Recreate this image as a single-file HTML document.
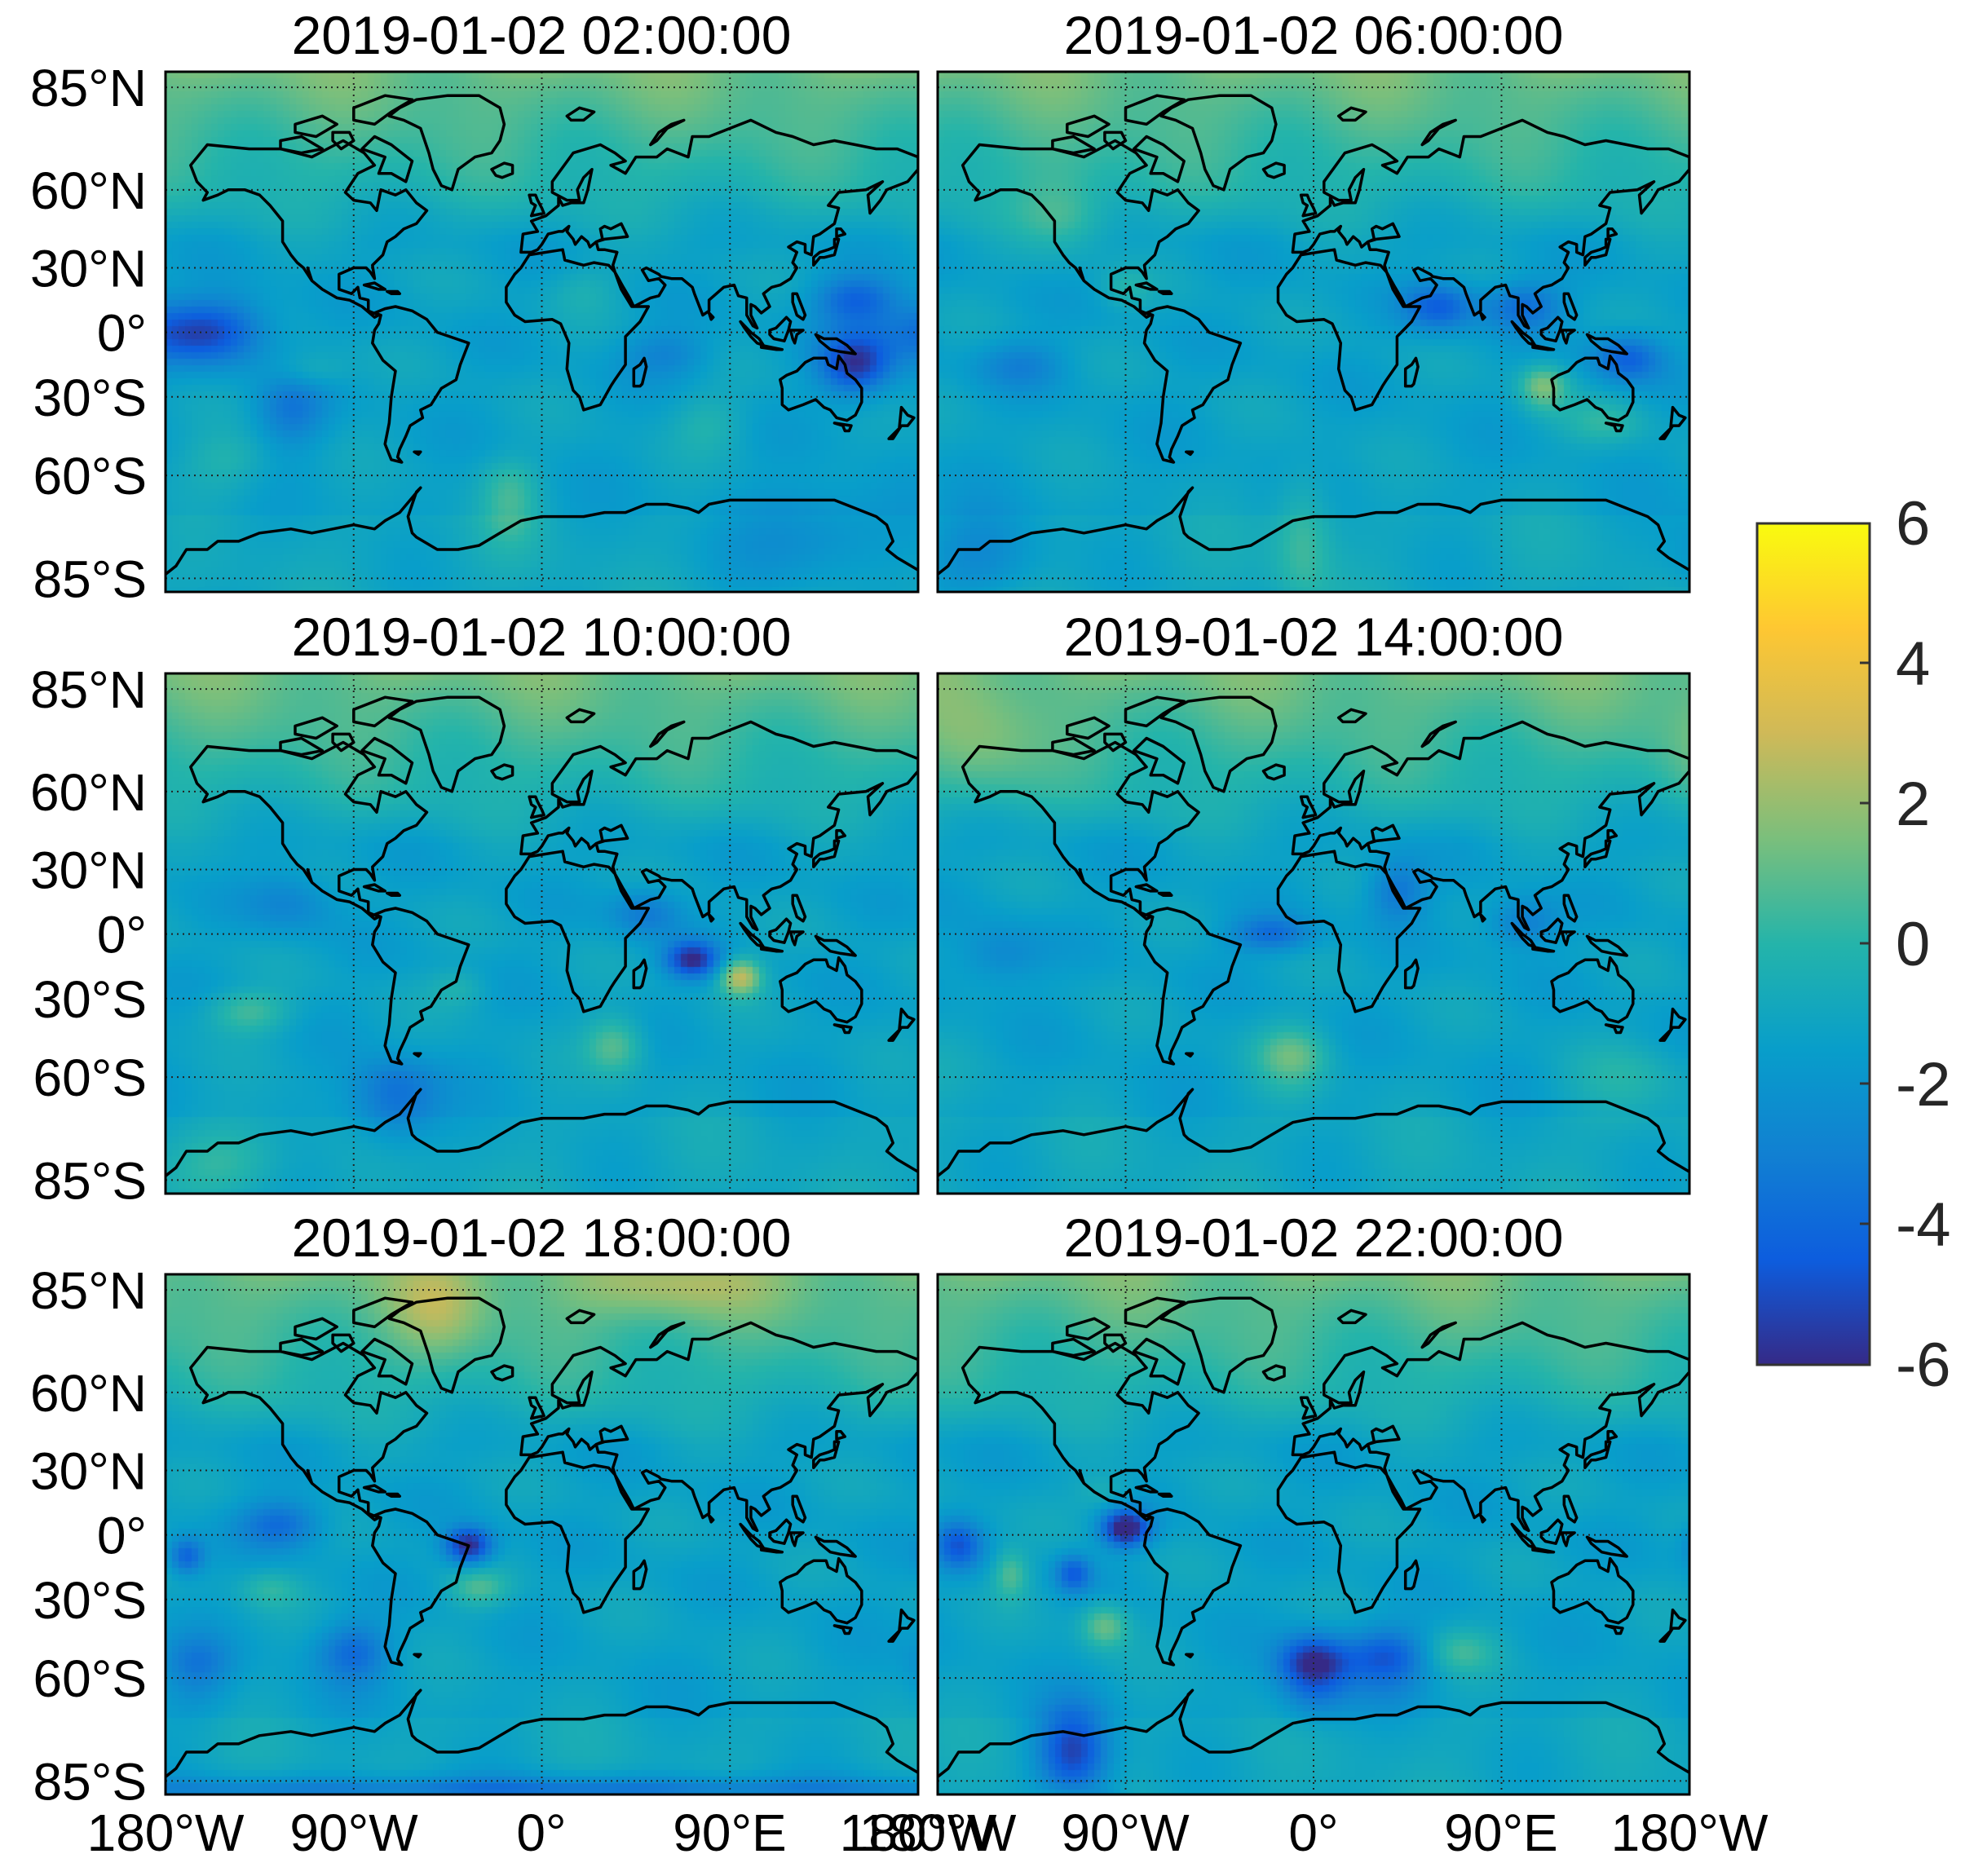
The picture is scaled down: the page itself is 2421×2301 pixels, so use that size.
<!DOCTYPE html>
<html><head><meta charset="utf-8">
<style>
html,body{margin:0;padding:0;background:#fff;}
#wrap{position:relative;width:2421px;height:2301px;overflow:hidden;background:#fff;}
canvas{position:absolute;}
svg{position:absolute;left:0;top:0;}
text{font-family:"Liberation Sans",Arial,sans-serif;}
</style></head>
<body><div id="wrap">
<canvas id="c0" width="923" height="638" style="left:203px;top:88px;width:923px;height:638px"></canvas>
<canvas id="c1" width="922" height="638" style="left:1150px;top:88px;width:922px;height:638px"></canvas>
<canvas id="c2" width="923" height="638" style="left:203px;top:826px;width:923px;height:638px"></canvas>
<canvas id="c3" width="922" height="638" style="left:1150px;top:826px;width:922px;height:638px"></canvas>
<canvas id="c4" width="923" height="638" style="left:203px;top:1563px;width:923px;height:638px"></canvas>
<canvas id="c5" width="922" height="638" style="left:1150px;top:1563px;width:922px;height:638px"></canvas>
<svg id="ov" width="2421" height="2301" xmlns="http://www.w3.org/2000/svg">
<defs>
<linearGradient id="cb" x1="0" y1="1" x2="0" y2="0">
<stop offset="0" stop-color="#352a87"/><stop offset="0.125" stop-color="#0d5dde"/>
<stop offset="0.25" stop-color="#1180d2"/><stop offset="0.375" stop-color="#089eca"/>
<stop offset="0.5" stop-color="#24b4aa"/><stop offset="0.625" stop-color="#7abf7c"/>
<stop offset="0.75" stop-color="#cfb958"/><stop offset="0.875" stop-color="#fec732"/>
<stop offset="1" stop-color="#f9fb0e"/></linearGradient>
</defs>
<g id="texts" font-size="64" fill="#000">
<text x="664" y="66" text-anchor="middle" font-size="66">2019-01-02 02:00:00</text>
<text x="1611" y="66" text-anchor="middle" font-size="66">2019-01-02 06:00:00</text>
<text x="664" y="804" text-anchor="middle" font-size="66">2019-01-02 10:00:00</text>
<text x="1611" y="804" text-anchor="middle" font-size="66">2019-01-02 14:00:00</text>
<text x="664" y="1541" text-anchor="middle" font-size="66">2019-01-02 18:00:00</text>
<text x="1611" y="1541" text-anchor="middle" font-size="66">2019-01-02 22:00:00</text>
<g text-anchor="middle" font-size="64">
<text x="203" y="2270">180°W</text><text x="434" y="2270">90°W</text><text x="664" y="2270">0°</text><text x="895" y="2270">90°E</text><text x="1126" y="2270">180°W</text>
<text x="1150" y="2270">180°W</text><text x="1380" y="2270">90°W</text><text x="1611" y="2270">0°</text><text x="1841" y="2270">90°E</text><text x="2072" y="2270">180°W</text>
</g>
<g font-size="76" fill="#262626">
<text x="2325" y="668">6</text><text x="2325" y="840">4</text><text x="2325" y="1012">2</text><text x="2325" y="1184">0</text><text x="2325" y="1356">-2</text><text x="2325" y="1528">-4</text><text x="2325" y="1700">-6</text>
</g>
</g>
<rect x="2155" y="642" width="138" height="1032" fill="url(#cb)" stroke="#333" stroke-width="3"/>
<g stroke="#333" stroke-width="3">
<line x1="2281" y1="813" x2="2293" y2="813"/><line x1="2281" y1="985" x2="2293" y2="985"/><line x1="2281" y1="1157" x2="2293" y2="1157"/><line x1="2281" y1="1329" x2="2293" y2="1329"/><line x1="2281" y1="1501" x2="2293" y2="1501"/>
</g>
<g id="maps"></g>
</svg>
</div>
<script>
var LATS=[-90,-85,-60,-30,0,30,60,85,90],FR=[1.0,0.974,0.776,0.625,0.501,0.377,0.227,0.030,0];
function fy(lat){for(var i=0;i<LATS.length-1;i++){if(lat<=LATS[i+1]){var t=(lat-LATS[i])/(LATS[i+1]-LATS[i]);return FR[i]+t*(FR[i+1]-FR[i]);}}return 0;}
function flat(f){for(var i=0;i<FR.length-1;i++){if(f>=FR[i+1]){var t=(f-FR[i])/(FR[i+1]-FR[i]);return LATS[i]+t*(LATS[i+1]-LATS[i]);}}return 90;}
var P=[[203,88,923,638],[1150,88,922,638],[203,826,923,638],[1150,826,922,638],[203,1563,923,638],[1150,1563,922,638]];
var C=[
[[-168,66],[-160,71],[-140,70],[-125,70],[-110,68],[-95,72],[-85,69],[-80,66],[-88,64],[-94,59],[-90,56],[-82,55],[-79,52],[-77,60],[-70,58],[-65,60],[-60,55],[-55,52],[-60,47],[-66,45],[-70,42],[-74,40],[-76,35],[-81,31],[-80,25],[-82,28],[-84,30],[-90,30],[-97,27],[-97,20],[-91,18],[-88,21],[-87,16],[-83,15],[-83,10],[-78,8],[-80,7],[-86,12],[-92,15],[-98,16],[-105,20],[-110,24],[-112,30],[-110,24],[-114,30],[-117,32],[-120,35],[-124,40],[-124,48],[-130,54],[-135,58],[-142,60],[-150,60],[-155,58],[-162,56],[-160,59],[-165,62],[-168,66]],
[[-80,9],[-75,11],[-70,12],[-62,10],[-55,6],[-50,0],[-44,-2],[-35,-5],[-39,-15],[-41,-22],[-48,-26],[-53,-33],[-58,-35],[-57,-38],[-63,-41],[-65,-45],[-68,-50],[-69,-53],[-67,-55],[-72,-54],[-75,-48],[-73,-40],[-72,-30],[-70,-18],[-76,-13],[-81,-5],[-80,1],[-78,4],[-77,8],[-80,9]],
[[-17,21],[-13,27],[-10,30],[-6,35],[10,37],[11,33],[20,31],[25,32],[32,31],[35,28],[38,20],[43,12],[51,12],[47,5],[40,-2],[40,-15],[35,-22],[33,-25],[28,-33],[20,-35],[18,-30],[15,-27],[12,-17],[13,-5],[9,4],[5,6],[-8,5],[-13,8],[-17,14],[-17,21]],
[[-10,36],[-9,43],[-2,44],[-5,48],[2,50],[5,52],[8,54],[8,57],[10,54],[14,55],[20,55],[22,60],[24,65],[20,63],[17,60],[18,56],[12,56],[5,59],[5,62],[15,69],[28,71],[35,69],[40,67],[33,66],[40,64],[45,68],[55,68],[60,70],[70,68],[72,73],[80,73],[90,75],[100,77],[112,74],[120,73],[130,71],[140,72],[150,71],[160,70],[170,70],[180,68],[180,65],[175,62],[165,60],[162,56],[157,51],[156,58],[163,62],[155,60],[142,59],[137,54],[142,53],[140,47],[133,43],[130,42],[129,35],[126,36],[126,39],[122,40],[118,38],[122,36],[120,32],[122,30],[119,25],[114,22],[110,21],[106,18],[109,12],[105,9],[102,12],[100,13],[100,8],[103,2],[101,3],[98,8],[98,16],[94,17],[92,22],[87,21],[80,15],[80,10],[77,8],[73,18],[72,21],[67,25],[62,25],[57,26],[56,27],[50,30],[48,29],[51,24],[56,25],[59,22],[56,17],[52,16],[44,12],[42,16],[39,21],[35,28],[34,31],[36,36],[30,37],[27,37],[26,40],[29,41],[28,45],[30,46],[33,45],[38,47],[41,42],[30,41],[26,40],[23,38],[22,40],[19,42],[16,39],[15,41],[12,44],[13,46],[10,44],[8,44],[3,43],[0,39],[-2,37],[-5,36],[-10,36]],
[[114,-22],[117,-20],[122,-18],[126,-14],[130,-12],[136,-12],[137,-15],[141,-17],[142,-11],[145,-15],[146,-19],[150,-22],[153,-26],[153,-32],[150,-37],[146,-39],[141,-38],[138,-35],[135,-34],[131,-31],[125,-33],[118,-35],[115,-33],[115,-26],[114,-22]],
[[-73,78],[-68,80],[-60,82],[-45,83],[-30,83],[-20,80],[-18,76],[-20,72],[-24,69],[-32,68],[-40,65],[-43,60],[-48,61],[-52,65],[-54,69],[-58,75],[-66,77],[-73,78]],
[[-5,50],[1,51],[0,53],[-2,56],[-3,58],[-6,58],[-5,55],[-3,54],[-4,52],[-5,50]],
[[44,-25],[44,-17],[47,-15],[49,-12],[50,-16],[48,-24],[47,-25],[44,-25]],
[[130,31],[133,34],[135,34],[140,35],[141,38],[142,41],[140,41],[140,38],[137,37],[133,36],[130,34],[130,31]],
[[141,42],[145,43],[143,45],[141,45],[141,42]],
[[95,5],[100,0],[104,-3],[106,-6],[103,-5],[100,-2],[97,2],[95,5]],
[[105,-6],[110,-7],[115,-8],[112,-8],[105,-7],[105,-6]],
[[109,1],[112,2],[117,7],[119,5],[118,1],[116,-4],[111,-3],[109,-1],[109,1]],
[[119,1],[121,1],[125,1],[122,-1],[121,-5],[120,-3],[119,1]],
[[120,18],[122,18],[124,13],[126,8],[125,6],[122,8],[120,14],[120,18]],
[[131,-1],[135,-3],[141,-3],[146,-6],[150,-10],[143,-9],[138,-8],[133,-4],[131,-1]],
[[172,-34],[175,-37],[178,-38],[175,-41],[172,-41],[168,-46],[166,-46],[171,-42],[172,-34]],
[[-80,73],[-72,71],[-62,67],[-65,62],[-72,64],[-78,64],[-75,68],[-86,70],[-80,73]],
[[-90,80],[-75,83],[-62,82],[-72,79],[-80,76],[-90,77],[-90,80]],
[[-118,76],[-105,78],[-98,76],[-108,73],[-118,74],[-118,76]],
[[-125,72],[-115,73],[-105,70],[-115,69],[-125,70],[-125,72]],
[[-100,74],[-92,74],[-90,72],[-96,70],[-100,72],[-100,74]],
[[-24,65],[-18,66.5],[-14,66],[-14,64],[-19,63],[-22,63.5],[-24,65]],
[[12,78],[18,80],[25,79],[20,77],[14,77],[12,78]],
[[52,71],[56,74],[62,76],[68,77],[60,75],[55,72],[52,71]],
[[-85,22],[-80,23],[-75,20],[-78,20],[-85,22]],
[[-74,19],[-69,19],[-68,18],[-72,18],[-74,19]],
[[80,9],[82,7],[81,6],[80,9]],
[[-61,-51],[-58,-51],[-59,-52],[-61,-51]],
[[140,-40],[148,-41],[147,-43],[145,-43],[144,-41]]
];
var ANT=[[-180,-84],[-175,-82],[-170,-78],[-160,-78],[-155,-76],[-145,-76],[-135,-74],[-120,-73],[-110,-74],[-100,-73],[-90,-72],[-80,-73],[-75,-71],[-68,-69],[-63,-66],[-58,-63],[-60,-64],[-62,-67],[-64,-70],[-62,-74],[-60,-75],[-50,-78],[-40,-78],[-30,-77],[-20,-74],[-10,-71],[0,-70],[10,-70],[20,-70],[30,-69],[40,-69],[50,-67],[60,-67],[70,-68],[75,-69],[80,-67],[90,-66],[100,-66],[110,-66],[120,-66],[130,-66],[140,-66],[150,-68],[160,-70],[165,-72],[168,-76],[165,-78],[170,-80],[180,-83]];
var ns="http://www.w3.org/2000/svg",g=document.getElementById('maps');
function el(n,a){var e=document.createElementNS(ns,n);for(var k in a)e.setAttribute(k,a[k]);g.appendChild(e);return e;}
P.forEach(function(p){
  var X=function(lon){return p[0]+(lon+180)/360*p[2];},Y=function(lat){return p[1]+fy(lat)*p[3];};
  var cp="cl"+p[0]+"_"+p[1];
  var cpe=document.createElementNS(ns,'clipPath');cpe.setAttribute('id',cp);var r=document.createElementNS(ns,'rect');r.setAttribute('x',p[0]);r.setAttribute('y',p[1]);r.setAttribute('width',p[2]);r.setAttribute('height',p[3]);cpe.appendChild(r);g.appendChild(cpe);
  [-90,0,90].forEach(function(l){el('line',{x1:X(l),y1:p[1],x2:X(l),y2:p[1]+p[3],stroke:'#222','stroke-width':2,'stroke-dasharray':'2 5'});});
  [-85,-60,-30,0,30,60,85].forEach(function(l){el('line',{x1:p[0],y1:Y(l),x2:p[0]+p[2],y2:Y(l),stroke:'#222','stroke-width':2,'stroke-dasharray':'2 5'});});
  var d="";
  C.forEach(function(poly){poly.forEach(function(pt,i){d+=(i?"L":"M")+X(pt[0]).toFixed(1)+" "+Y(pt[1]).toFixed(1);});d+="Z";});
  ANT.forEach(function(pt,i){d+=(i?"L":"M")+X(pt[0]).toFixed(1)+" "+Y(pt[1]).toFixed(1);});
  el('path',{d:d,fill:'none',stroke:'#000','stroke-width':3.5,'stroke-linejoin':'round','clip-path':'url(#'+cp+')'});
  el('rect',{x:p[0],y:p[1],width:p[2],height:p[3],fill:'none',stroke:'#000','stroke-width':3});
  if(p[0]==203){var labs=[[85,'85°N'],[60,'60°N'],[30,'30°N'],[0,'0°'],[-30,'30°S'],[-60,'60°S'],[-85,'85°S']];
    labs.forEach(function(L){var t=el('text',{x:180,y:Y(L[0])+23,'text-anchor':'end','font-size':64,fill:'#000'});t.textContent=L[1];});}
});
var CM=[[53,42,135],[13,93,222],[17,128,210],[8,158,202],[36,180,170],[122,191,124],[207,185,88],[254,199,50],[249,251,14]];
function col(v){var t=(v+6)/12;t=Math.max(0,Math.min(1,t))*8;var i=Math.min(7,Math.floor(t)),f=t-i;return [0,1,2].map(function(k){return Math.round(CM[i][k]+(CM[i+1][k]-CM[i][k])*f);});}
var B=[
[[-170,0,-3,22,10],[-150,2,-1.5,15,12],[150,-15,-4.2,12,10],[150,15,-2.8,14,8],[-15,-65,1.6,10,8],[-150,-55,1.2,15,8],[-120,-35,-2,12,10],[-110,-18,1,12,6],[80,-40,1,12,8],[130,-75,-1.5,30,8],[20,20,0.8,12,8],[60,-10,-1.5,15,8]],
[[60,12,-3,12,8],[100,12,-2.5,14,8],[110,-25,2.8,8,7],[-5,-75,1.6,10,12],[150,-12,-3,12,8],[-120,50,1.5,15,10],[-90,20,1,8,6],[-140,-15,-1.5,15,8],[140,-40,1.2,14,6],[-160,-80,-1.5,20,8]],
[[72,-12,-4.5,9,6],[95,-20,4,7,6],[35,-48,2.2,10,8],[-140,-35,1.8,14,6],[-70,-65,-2.5,15,8],[50,10,-2,12,8],[-120,15,-1.5,15,10],[-40,-25,1,10,6],[-150,-80,1.2,20,6]],
[[-20,0,-2.5,14,6],[40,20,-2.2,10,10],[-10,-52,2.3,12,8],[100,5,-2,12,8],[-150,-10,-1.5,15,10],[150,-60,1,20,8],[-160,70,1.2,20,10]],
[[-35,-5,-5,8,6],[-30,-25,1.8,10,6],[-130,-25,1.3,10,6],[-165,-55,-2,12,8],[0,-88,-2.5,180,3],[-90,-50,-2.5,12,8],[-125,5,-2.5,14,8],[-50,80,1.5,15,8],[60,85,1.3,30,5],[-170,-10,-3,6,6]],
[[-90,3,-5.5,8,6],[-145,-18,2,6,8],[-100,-40,2.5,8,6],[-115,-18,-3,6,6],[0,-55,-5,12,8],[35,-52,-3.2,14,8],[-115,-78,-4.2,12,8],[-170,-5,-3,8,8],[-100,-100,-4,8,6],[-100,20,1,10,6],[70,-50,1.5,12,6]]
];
function base(lon,lat){var v=-1.3;if(lat>40)v+= (lat-40)/45*2.4;if(lat<-70)v+=0.3;
  v+=0.5*Math.sin(lon*0.06+lat*0.05)*Math.cos(lat*0.09-lon*0.02);return v;}
for(var k=0;k<6;k++){
  var cv=document.getElementById('c'+k),ctx=cv.getContext('2d'),W=cv.width,H=cv.height;
  var img=ctx.createImageData(W,H),bl=B[k],cs=8;
  for(var y=0;y<H;y+=cs){var lat=flat((y+cs/2)/H);
    for(var x=0;x<W;x+=cs){var lon=(x+cs/2)/W*360-180;var v=base(lon+k*30,lat);
      bl.forEach(function(b){var dx=lon-b[0];if(dx>180)dx-=360;if(dx<-180)dx+=360;var dy=lat-b[1];v+=b[2]*Math.exp(-(dx*dx)/(2*b[3]*b[3])-(dy*dy)/(2*b[4]*b[4]));});
      var c=col(v);
      for(var yy=y;yy<Math.min(H,y+cs);yy++)for(var xx=x;xx<Math.min(W,x+cs);xx++){var i=(yy*W+xx)*4;img.data[i]=c[0];img.data[i+1]=c[1];img.data[i+2]=c[2];img.data[i+3]=255;}
    }}
  ctx.putImageData(img,0,0);
}
</script>
</body></html>
